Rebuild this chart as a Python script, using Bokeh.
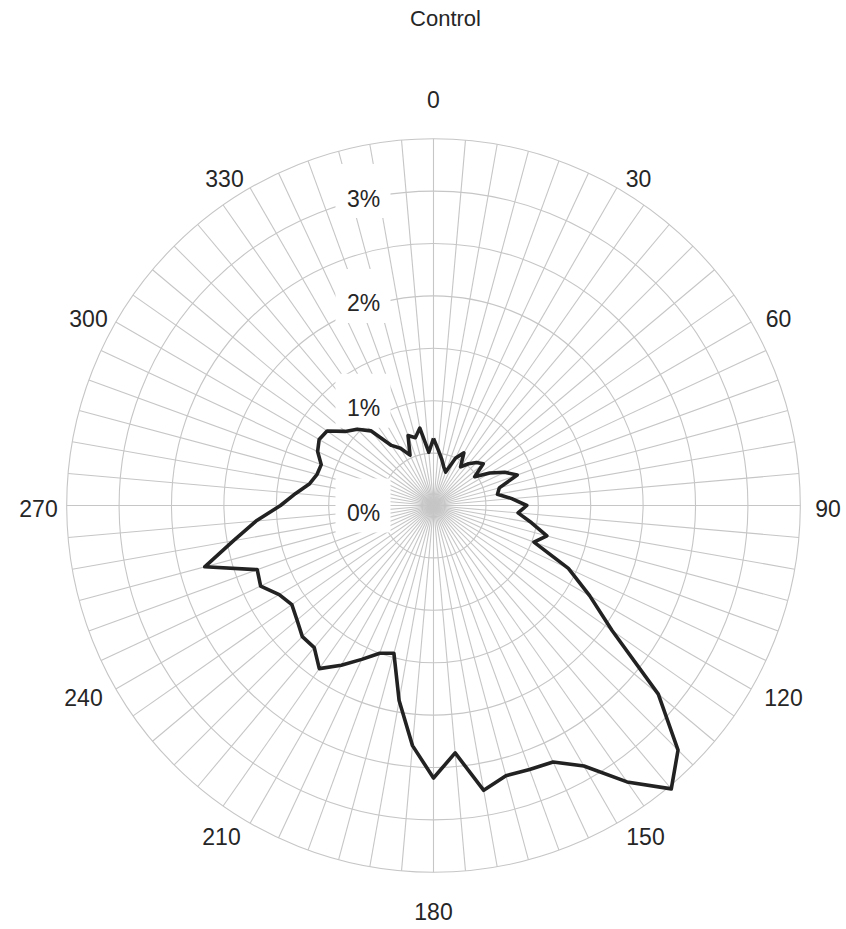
import numpy as np
from bokeh.plotting import figure
from bokeh.models import Range1d
from bokeh.embed import file_html
from bokeh.resources import INLINE
from bokeh.core.properties import value

# ---------------- data ----------------
title_text = "Control"
angles_deg = list(range(0, 360, 5))
percent = [
    0.64, 0.53, 0.45, 0.38, 0.34, 0.50, 0.58, 0.45, 0.52, 0.58,   # 0-45
    0.62, 0.48, 0.62, 0.75, 0.85, 0.65, 0.62, 0.75, 0.89, 0.81,   # 50-95
    0.95, 1.12, 1.02, 1.42, 1.72, 2.08, 2.80, 3.30, 3.53, 3.22,   # 100-145
    2.87, 2.70, 2.68, 2.67, 2.76, 2.37, 2.60, 2.30, 1.89, 1.46,   # 150-195
    1.50, 1.62, 1.76, 1.90, 1.77, 1.77, 1.70, 1.65, 1.70, 1.82,   # 200-245
    1.79, 2.26, 1.94, 1.70, 1.46, 1.32, 1.20, 1.15, 1.14, 1.22,   # 250-295
    1.26, 1.24, 1.10, 1.03, 0.93, 0.70, 0.63, 0.53, 0.71, 0.67,   # 300-345
    0.75, 0.51,                                                   # 350-355
]
ring_values = [0.5, 1.0, 1.5, 2.0, 2.5, 3.0, 3.5]
rlabel_values = [0, 1, 2, 3]
rlabel_text = ["0%", "1%", "2%", "3%"]
theta_ticks = list(range(0, 360, 30))
theta_text = [str(a) for a in theta_ticks]
spoke_angles = list(range(0, 360, 5))

# ---------------- layout ----------------
W, H = 844, 927
S = 104.8                # pixels per 1 %
CXs, CYs = 433, 505      # centre of the polar area in the picture
CX, CY = CXs, CYs
GRID = "#c6c6c6"
TXT = "#262626"
FONT = value("Liberation Sans")

# pixel offsets (from centre) of the angle labels
theta_label_px = {
    0: (0, -406), 30: (205, -327.5), 60: (345, -187.5), 90: (394.5, 2.5),
    120: (350, 192), 150: (212, 331), 180: (0, 406), 210: (-212, 331),
    240: (-350, 192), 270: (-395, 2.5), 300: (-345, -187.5), 330: (-209, -327.5),
}

p = figure(width=W, height=H,
           x_range=Range1d(-CX / S, (W - CX) / S),
           y_range=Range1d(-(H - CY) / S, CY / S),
           output_backend="svg", toolbar_location=None, min_border=0)
p.axis.visible = False
p.grid.visible = False
p.outline_line_color = None
p.background_fill_color = "white"

rmax = max(ring_values)
sa = np.radians(spoke_angles)
p.segment(x0=[0] * len(sa), y0=[0] * len(sa), x1=rmax * np.sin(sa), y1=rmax * np.cos(sa),
          line_color=GRID, line_width=1.1)
p.circle(x=[0] * len(ring_values), y=[0] * len(ring_values), radius=ring_values,
         fill_color=None, line_color=GRID, line_width=1.1)

# white boxes behind radial labels
bx = (362.5 - CXs) / S
p.rect(x=[bx] * len(rlabel_values), y=rlabel_values, width=55 / S, height=54 / S,
       fill_color="white", line_color=None)
p.text(x=[(363 - CXs) / S] * len(rlabel_values), y=[v - 7.5 / S for v in rlabel_values],
       text=rlabel_text, text_align="center", text_baseline="middle",
       text_font=FONT, text_font_size="23px", text_color=TXT)

# angle labels
tx = [theta_label_px[a][0] / S for a in theta_ticks]
ty = [-theta_label_px[a][1] / S for a in theta_ticks]
p.text(x=tx, y=ty, text=theta_text, text_align="center", text_baseline="middle",
       text_font=FONT, text_font_size="23px", text_color=TXT)

# data line (closed)
th = np.radians(angles_deg + [angles_deg[0]])
rr = np.array(percent + [percent[0]])
p.line(x=rr * np.sin(th), y=rr * np.cos(th), line_color="#222222", line_width=3.6,
       line_join="round")

# title
p.text(x=[(445 - CXs) / S], y=[(CYs - 18) / S], text=[title_text], text_align="center",
       text_baseline="middle", text_font=FONT, text_font_size="22px", text_color=TXT)

open("out.html", "w").write(file_html(p, INLINE))
